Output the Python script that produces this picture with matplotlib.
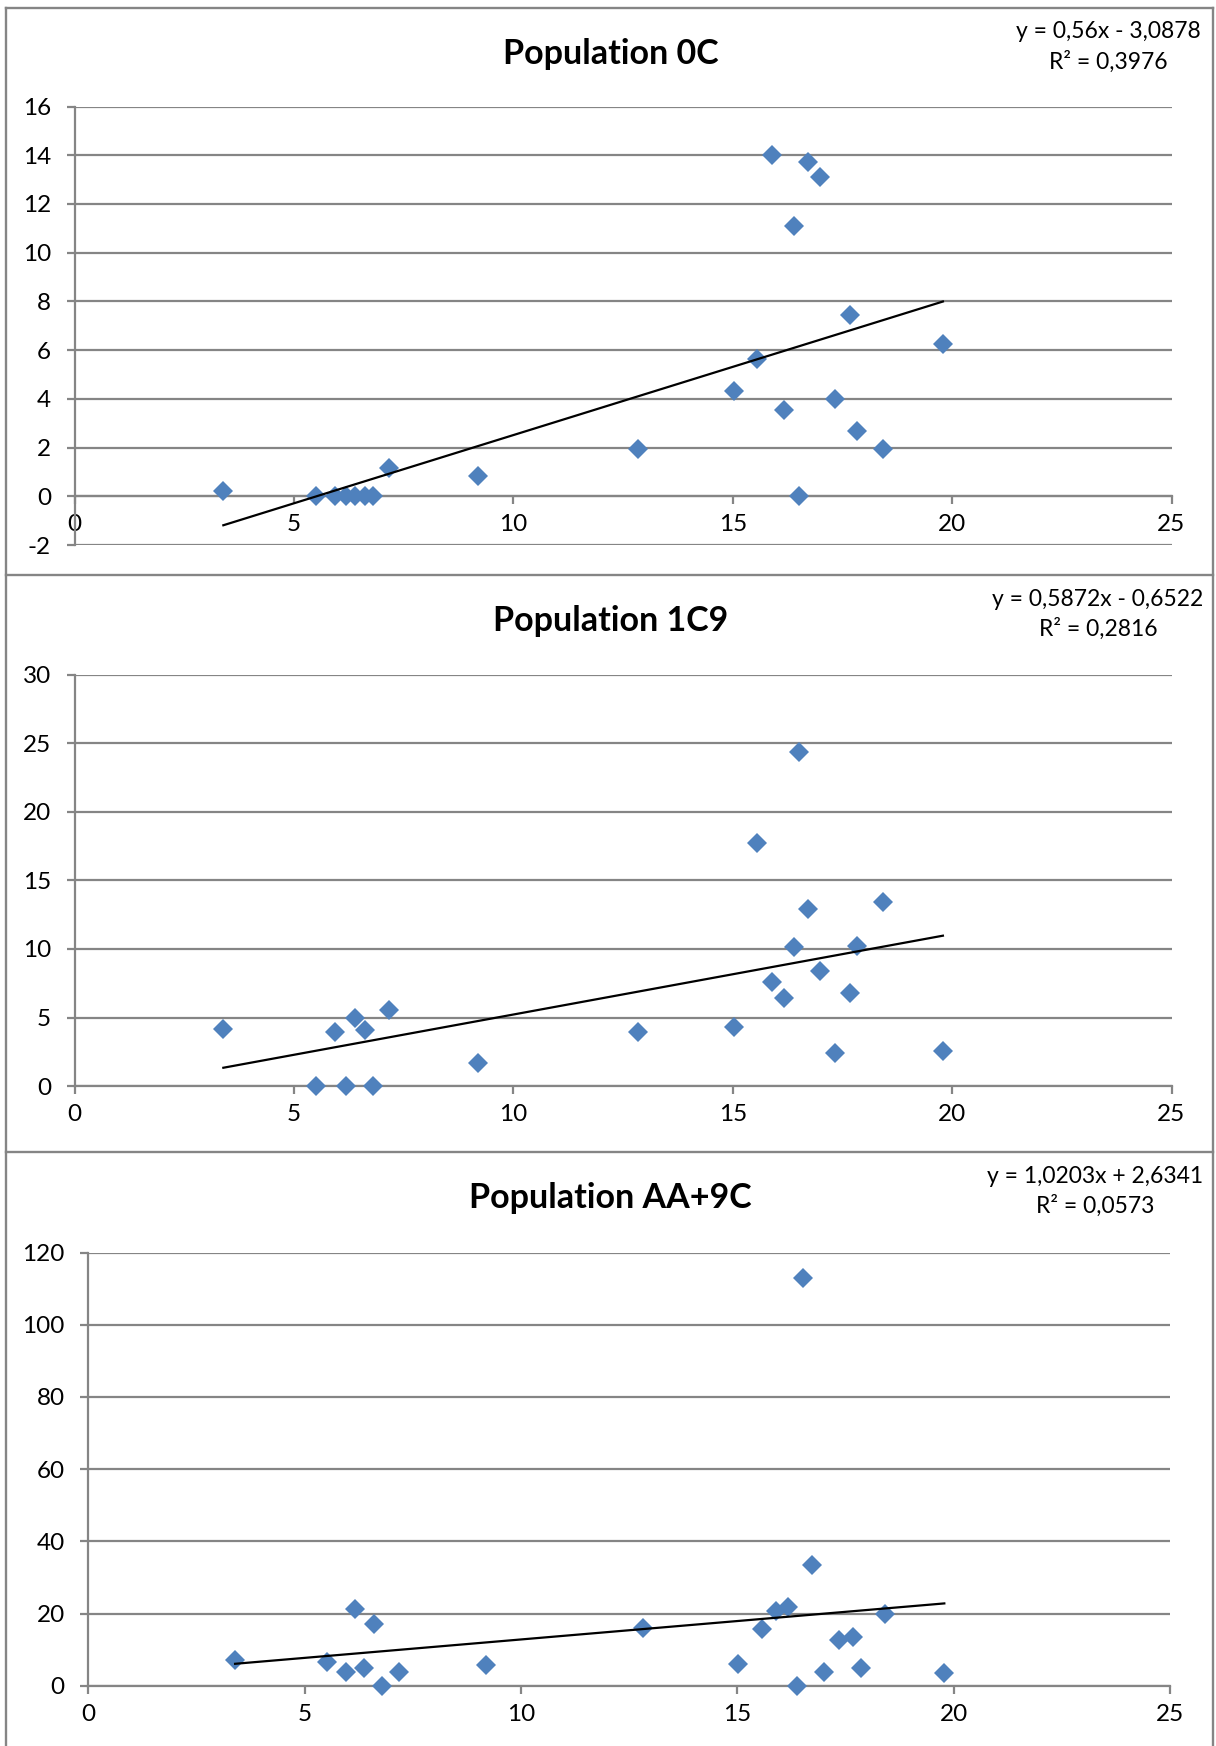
import matplotlib
matplotlib.use("Agg")
import matplotlib.pyplot as plt
from matplotlib.lines import Line2D
import numpy as np

plt.rcParams['font.family'] = ['Lato', 'DejaVu Sans']

# ---------------- data ----------------
x_values = [3.39, 5.51, 5.94, 6.18, 6.40, 6.61, 6.80, 7.17, 9.20, 12.83, 15.02, 15.55,
            15.90, 16.17, 16.40, 16.50, 16.71, 16.98, 17.33, 17.67, 17.84, 18.43, 19.79]

y_0c = [0.2, 0.0, 0.0, 0.0, 0.0, 0.0, 0.0, 1.18, 0.83, 1.94, 4.34, 5.63,
        14.0, 3.53, 11.09, 0.0, 13.72, 13.12, 3.99, 7.43, 2.70, 1.94, 6.26]

y_1c9 = [4.13, 0.0, 3.91, 0.0, 4.94, 4.10, 0.0, 5.58, 1.67, 3.97, 4.32, 17.72,
         7.61, 6.42, 10.12, 24.33, 12.95, 8.42, 2.43, 6.80, 10.25, 13.41, 2.56]

x_aa9c = [3.39, 5.52, 5.95, 6.16, 6.36, 6.59, 6.79, 7.17, 9.19, 12.81, 15.02, 15.56,
          15.90, 16.17, 16.38, 16.52, 16.72, 16.99, 17.35, 17.67, 17.85, 18.42, 19.78]
y_aa9c = [7.17, 6.64, 3.96, 21.4, 5.03, 17.1, 0.0, 3.75, 5.89, 16.06, 6.10, 15.7,
          20.77, 21.94, 0.0, 112.9, 33.4, 3.96, 12.74, 13.6, 5.03, 20.0, 3.43]

titles = ["Population 0C", "Population 1C9", "Population AA+9C"]
slopes = [0.56, 0.5872, 1.0203]
intercepts = [-3.0878, -0.6522, 2.6341]
eq_texts = ["y = 0,56x - 3,0878", "y = 0,5872x - 0,6522", "y = 1,0203x + 2,6341"]
r2_texts = ["R² = 0,3976", "R² = 0,2816", "R² = 0,0573"]
y_ranges = [(-2, 16, 2), (0, 30, 5), (0, 120, 20)]
x_ticks = [0, 5, 10, 15, 20, 25]

# ---------------- layout (pixels) ----------------
W, H = 1216, 1746
panel_tops = [7.5, 575, 1152]
axes_px = [  # left, right, top, bottom
    (74.6, 1171.5, 106.5, 545.0),
    (74.6, 1171.5, 674.7, 1086.1),
    (88.4, 1170.2, 1252.5, 1685.8),
]
eq_cx = [1108, 1098, 1095]
GRAY = "#858585"
BLUE = "#4F81BD"

fig = plt.figure(figsize=(W / 100, H / 100), dpi=100)
fig.patch.set_facecolor("white")

def fx(px):
    return px / W

def fy(py):
    return 1 - py / H

# frames
for yt in panel_tops:
    fig.add_artist(Line2D([fx(5.7), fx(1213)], [fy(yt), fy(yt)], color=GRAY, lw=1.7))
fig.add_artist(Line2D([fx(5.7), fx(5.7)], [fy(7.5), 0], color=GRAY, lw=1.7))
fig.add_artist(Line2D([fx(1213), fx(1213)], [fy(7.5), 0], color=GRAY, lw=1.7))

xs_list = [x_values, x_values, x_aa9c]
ys_list = [y_0c, y_1c9, y_aa9c]

for i in range(3):
    l, r, t, b = axes_px[i]
    ax = fig.add_axes([fx(l), fy(b), fx(r) - fx(l), (b - t) / H])
    ymin, ymax, ystep = y_ranges[i]
    ax.set_xlim(0, 25)
    ax.set_ylim(ymin, ymax)
    yt_vals = np.arange(ymin, ymax + ystep / 2, ystep)
    ax.set_yticks(yt_vals)
    ax.set_xticks(x_ticks)
    ax.set_yticklabels([str(int(v)) for v in yt_vals])
    ax.set_xticklabels([str(v) for v in x_ticks])
    for s in ["top", "right"]:
        ax.spines[s].set_visible(False)
    ax.spines["bottom"].set_position(("data", 0))
    for s in ["left", "bottom"]:
        ax.spines[s].set_color(GRAY)
        ax.spines[s].set_linewidth(1.6)
    ax.grid(axis="y", color=GRAY, lw=1.6, zorder=0)
    ax.set_axisbelow(True)
    ax.tick_params(axis="y", direction="out", length=6, width=1.6, color=GRAY,
                   labelsize=17.5, pad=11)
    ax.tick_params(axis="x", direction="out", length=6, width=1.6, color=GRAY,
                   labelsize=17.5, pad=7)
    for lab in ax.get_xticklabels() + ax.get_yticklabels():
        lab.set_color("black")

    xs = xs_list[i]
    ys = ys_list[i]
    ax.plot(xs, ys, linestyle="none", marker="D", markersize=10.2,
            markerfacecolor=BLUE, markeredgewidth=0, clip_on=False, zorder=3)
    x0, x1 = min(xs), max(xs)
    ax.plot([x0, x1], [slopes[i] * x0 + intercepts[i], slopes[i] * x1 + intercepts[i]],
            color="black", lw=1.6, zorder=4, clip_on=False)

    top = panel_tops[i]
    fig.text(fx(610.5), fy(top + 56), titles[i], ha="center", va="baseline",
             fontsize=24.5, fontweight="bold")
    fig.text(fx(eq_cx[i]), fy(top + 31), eq_texts[i], ha="center", va="baseline",
             fontsize=16.5)
    fig.text(fx(eq_cx[i]), fy(top + 61), r2_texts[i], ha="center", va="baseline",
             fontsize=16.5)

fig.savefig("out.png", dpi=100, facecolor="white")
